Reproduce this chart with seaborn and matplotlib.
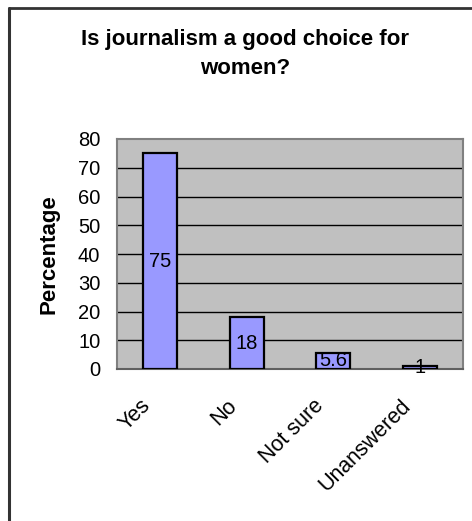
import matplotlib
matplotlib.use("Agg")
import matplotlib.pyplot as plt
from matplotlib.transforms import ScaledTranslation
from matplotlib.lines import Line2D
import seaborn as sns
import pandas as pd

categories = ["Yes", "No", "Not sure", "Unanswered"]
percentages = [75, 18, 5.6, 1]
y_ticks = [0, 10, 20, 30, 40, 50, 60, 70, 80]

sns.set_style("white")
plt.rcParams["font.family"] = ["Liberation Sans", "DejaVu Sans"]
plt.rcParams.update({"text.color": "black", "axes.labelcolor": "black",
                     "xtick.color": "black", "ytick.color": "black"})

df = pd.DataFrame({"answer": categories, "pct": percentages})

fig = plt.figure(figsize=(4.72, 5.21), dpi=100)
ax = fig.add_axes([117 / 472, 1 - 369 / 521, 346 / 472, 230 / 521])
ax.set_facecolor("#C0C0C0")

sns.barplot(data=df, x="answer", y="pct", order=categories, ax=ax,
            color="#9999FF", saturation=1, width=0.39,
            edgecolor="black", linewidth=1.6, zorder=3)

ax.set_ylim(0, 80)
ax.set_xlim(-0.5, 3.5)
ax.set_yticks(y_ticks)
ax.set_yticklabels([str(v) for v in y_ticks], fontsize=14.5)
for v in y_ticks[1:-1]:
    ax.axhline(v, color="black", linewidth=1.0, zorder=1)

# category boundaries carry the tick marks, labels sit under the bars
ax.set_xticks([i - 0.5 for i in range(len(categories) + 1)])
ax.set_xticklabels([])
ax.set_xticks(range(len(categories)), minor=True)
ax.set_xticklabels(categories, minor=True, fontsize=15.5, rotation=45,
                   ha="right", va="top", rotation_mode="anchor")
ax.tick_params(axis="x", which="major", length=6, width=1.2,
               color="#808080", direction="out")
ax.tick_params(axis="x", which="minor", length=0, pad=19)
ax.tick_params(axis="y", length=6, width=1.2, color="black",
               direction="out", pad=6)
shift = ScaledTranslation(-0.2, 0, fig.dpi_scale_trans)
for lbl in ax.get_xticklabels(minor=True):
    lbl.set_transform(lbl.get_transform() + shift)

for side in ["top", "right", "left"]:
    ax.spines[side].set_color("#808080")
    ax.spines[side].set_linewidth(1.5)
ax.spines["bottom"].set_color("#606060")
ax.spines["bottom"].set_linewidth(1.5)

for cont in ax.containers:
    ax.bar_label(cont, labels=[f"{v:g}" for v in percentages],
                 label_type="center", fontsize=14.5, zorder=4)

ax.set_xlabel("")
ax.set_ylabel("Percentage", fontsize=16, fontweight="bold")
ax.yaxis.set_label_coords(-0.165, 0.5)

fig.text(245 / 472, 1 - 54 / 521, "Is journalism a good choice for\nwomen?",
         ha="center", va="center", fontsize=16, fontweight="bold",
         linespacing=1.5)

# chart frame
fig.add_artist(Line2D([9 / 472, 9 / 472], [-0.05, 1 - 8 / 521],
                      color="#333333", linewidth=2.2))
fig.add_artist(Line2D([9 / 472, 1.05], [1 - 8 / 521, 1 - 8 / 521],
                      color="#333333", linewidth=2.0))

fig.savefig("out.png", dpi=100)
